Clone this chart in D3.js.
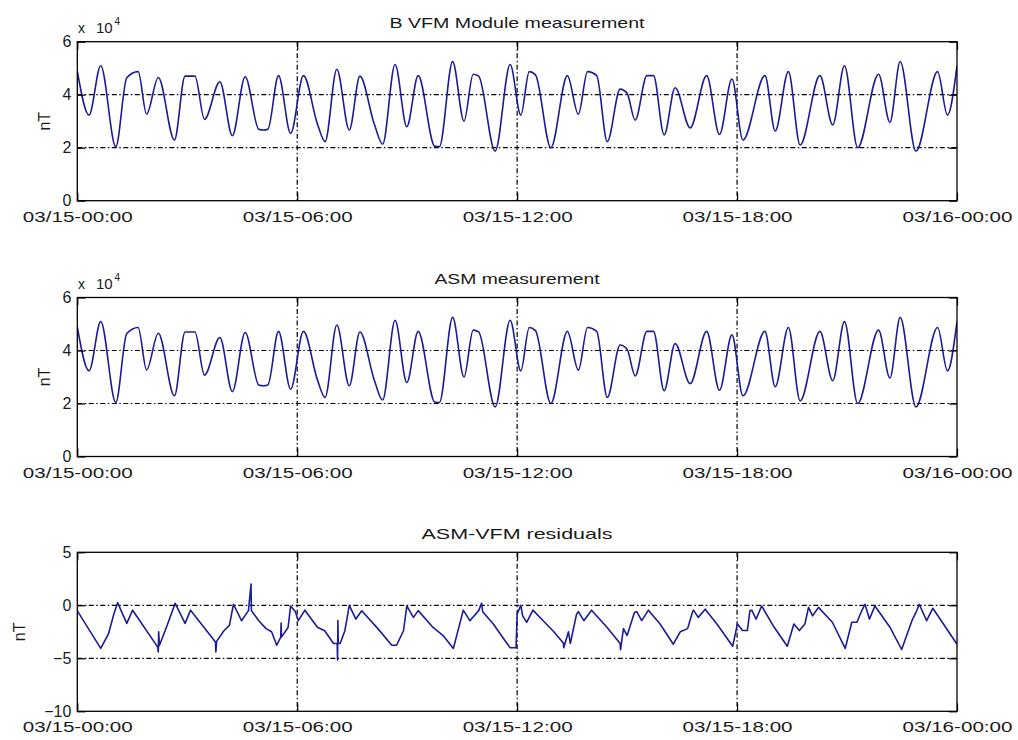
<!DOCTYPE html>
<html><head><meta charset="utf-8">
<script src="https://cdn.jsdelivr.net/npm/d3@7/dist/d3.min.js"></script>
<style>
body{margin:0;background:#fff}
text{font-family:"Liberation Sans",Arial,Helvetica,sans-serif;fill:#1a1a1a}
</style>
</head><body>
<svg id="chart" width="1018" height="740"></svg>
<script>
// ---- data ----
const timeTicks = [0, 6, 12, 18, 24]; // hours since 03/15 00:00
const timeTickLabels = ["03/15-00:00", "03/15-06:00", "03/15-12:00", "03/15-18:00", "03/16-00:00"];
const titles = ["B VFM Module measurement", "ASM measurement", "ASM-VFM residuals"];

const fieldTicks = [0, 2, 4, 6];            // x 10^4 nT
const residualTicks = [-10, -5, 0, 5];      // nT

const vfmHours = [0.00,0.32,0.64,1.05,1.35,1.66,1.89,2.21,2.65,2.94,3.21,3.47,3.89,4.23,4.58,4.95,5.08,5.20,5.49,5.82,
  6.17,6.55,6.76,7.08,7.42,7.71,8.10,8.33,8.67,8.99,9.30,9.75,9.88,10.24,10.55,10.80,10.95,11.40,11.81,
  12.10,12.33,12.50,12.92,13.37,13.67,13.92,14.17,14.46,14.81,15.00,15.22,15.54,15.72,16.01,16.31,16.72,17.17,17.52,17.86,
  18.16,18.76,19.04,19.40,19.72,20.26,20.61,20.93,21.29,21.86,22.17,22.45,22.88,23.47,23.74,24.00];
const vfmValues = [4.89,3.23,5.09,2.04,4.64,4.87,3.27,4.65,2.29,4.70,4.70,3.07,4.49,2.45,4.68,2.70,2.67,2.70,4.72,2.54,
  4.72,2.90,2.23,4.96,2.67,4.70,2.90,2.13,5.14,2.79,4.72,2.06,2.04,5.25,3.00,4.77,4.70,1.87,5.14,
  3.23,4.87,4.75,2.00,4.72,3.26,4.87,4.72,2.23,4.21,4.05,3.04,4.72,4.72,2.48,4.26,2.75,4.72,2.50,4.59,
  2.29,4.72,2.63,4.87,2.10,4.72,2.86,5.09,2.00,4.77,2.96,5.25,1.87,4.87,3.23,5.09];

const asmHours = [0.00,0.32,0.64,1.05,1.35,1.66,1.89,2.21,2.65,2.94,3.21,3.47,3.89,4.23,4.58,4.95,5.08,5.20,5.49,5.82,
  6.17,6.55,6.76,7.08,7.42,7.71,8.10,8.33,8.67,8.99,9.30,9.75,9.88,10.24,10.55,10.80,10.95,11.40,11.81,
  12.10,12.33,12.50,12.92,13.37,13.67,13.92,14.17,14.46,14.81,15.00,15.22,15.54,15.72,16.01,16.31,16.72,17.17,17.52,17.86,
  18.16,18.76,19.04,19.40,19.72,20.26,20.61,20.93,21.29,21.86,22.17,22.45,22.88,23.47,23.74,24.00];
const asmValues = [4.89,3.23,5.09,2.04,4.64,4.87,3.27,4.65,2.29,4.70,4.70,3.07,4.49,2.45,4.68,2.70,2.67,2.70,4.72,2.54,
  4.72,2.90,2.23,4.96,2.67,4.70,2.90,2.13,5.14,2.79,4.72,2.06,2.04,5.25,3.00,4.77,4.70,1.87,5.14,
  3.23,4.87,4.75,2.00,4.72,3.26,4.87,4.72,2.23,4.21,4.05,3.04,4.72,4.72,2.48,4.26,2.75,4.72,2.50,4.59,
  2.29,4.72,2.63,4.87,2.10,4.72,2.86,5.09,2.00,4.77,2.96,5.25,1.87,4.87,3.23,5.09];

const residualHours = [0.00,0.64,0.85,1.00,1.10,1.35,1.51,2.19,2.21,2.22,2.24,2.45,2.67,2.94,3.09,3.77,3.78,3.80,4.00,4.15,4.26,4.48,4.67,4.74,4.75,4.95,5.15,5.30,5.44,5.55,5.56,5.57,5.75,5.82,5.95,
  6.03,6.21,6.55,6.75,6.99,7.09,7.10,7.11,7.12,7.17,7.30,7.42,7.60,7.76,8.20,8.58,8.71,8.90,8.99,9.17,9.30,9.70,9.98,10.26,10.40,10.53,10.71,10.95,11.03,11.06,11.35,11.66,11.81,11.97,
  12.00,12.10,12.15,12.26,12.43,12.75,13.00,13.26,13.27,13.40,13.45,13.62,13.67,13.82,14.03,14.45,14.81,14.82,14.90,15.00,15.20,15.26,15.40,15.58,15.90,16.26,16.45,16.65,16.78,16.81,16.94,17.13,17.45,17.88,
  18.01,18.15,18.28,18.35,18.40,18.52,18.67,18.98,19.37,19.55,19.70,19.85,19.95,20.06,20.22,20.60,20.95,21.13,21.27,21.40,21.49,21.61,21.76,22.17,22.49,22.77,22.90,22.97,23.17,23.34,23.63,24.00];
const residualValues = [-0.52,-4.07,-2.70,-0.80,0.25,-1.70,-0.46,-3.92,-4.40,-2.50,-3.80,-1.90,0.19,-1.70,-0.46,-3.46,-4.40,-3.40,-2.40,-1.90,0.10,-1.45,-0.50,2.00,-0.50,-1.45,-2.20,-2.50,-3.77,-3.00,-1.67,-3.00,-2.10,-0.06,-0.60,
  -1.45,-0.46,-2.07,-2.40,-3.60,-3.60,-5.15,-1.45,-3.60,-3.60,-2.40,0.00,-1.30,-0.52,-2.20,-3.77,-3.77,-2.40,-0.06,-1.14,-0.50,-2.07,-2.85,-4.07,-2.20,-0.46,-1.45,-0.50,0.20,-0.60,-1.76,-3.30,-4.00,-4.00,
  -0.83,0.00,-1.00,-1.60,-0.46,-1.60,-2.50,-3.55,-4.00,-2.50,-3.60,-0.85,-0.60,-1.45,-0.46,-2.07,-3.60,-4.20,-2.20,-2.85,-0.68,-0.60,-1.45,-0.46,-1.76,-3.67,-2.50,-2.20,-0.68,-0.46,-1.14,-0.37,-1.76,-3.86,
  -1.76,-2.38,-2.38,-0.52,-0.46,-1.30,-0.06,-1.90,-3.86,-1.76,-2.38,-1.76,-0.20,-1.00,-0.20,-1.60,-4.07,-1.60,-1.60,-0.52,0.10,-1.30,-0.06,-2.07,-4.17,-1.45,-0.52,0.10,-1.45,-0.28,-1.76,-3.67];

// ---- layout ----
const svg = d3.select("#chart");
const left = 77.3, right = 957, plotH = 159;
const panels = [
  {title: titles[0], hours: vfmHours, values: vfmValues, domain: [0, 6], ticks: fieldTicks, grid: [2, 4], top: 41.7, exp: true, nTx: 50, curve: d3.curveMonotoneX, tw: 255},
  {title: titles[1], hours: asmHours, values: asmValues, domain: [0, 6], ticks: fieldTicks, grid: [2, 4], top: 297.5, exp: true, nTx: 50, curve: d3.curveMonotoneX, tw: 165},
  {title: titles[2], hours: residualHours, values: residualValues, domain: [-10, 5], ticks: residualTicks, grid: [-5, 0], top: 552.3, exp: false, nTx: 25, curve: d3.curveLinear, tw: 191}
];

const x = d3.scaleLinear().domain([0, 24]).range([left, right]);
const dash = "5,2.5,1.5,2.5";
const font = "'Liberation Sans',Arial,sans-serif";

panels.forEach((p, i) => {
  const bottom = p.top + plotH;
  const y = d3.scaleLinear().domain(p.domain).range([bottom, p.top]);
  const g = svg.append("g");

  // grid lines
  timeTicks.slice(1, -1).forEach(t => {
    g.append("line").attr("x1", x(t)).attr("x2", x(t)).attr("y1", p.top).attr("y2", bottom)
      .attr("stroke", "#000").attr("stroke-width", 1.2).attr("stroke-dasharray", dash);
  });
  p.grid.forEach(v => {
    g.append("line").attr("x1", left).attr("x2", right).attr("y1", y(v)).attr("y2", y(v))
      .attr("stroke", "#000").attr("stroke-width", 1.2).attr("stroke-dasharray", dash);
  });

  // data line
  const clipId = "clip" + i;
  svg.append("clipPath").attr("id", clipId).append("rect")
    .attr("x", left).attr("y", p.top).attr("width", right - left).attr("height", plotH);
  const pts = p.hours.map((h, k) => [h, p.values[k]]);
  g.append("path").datum(pts)
    .attr("clip-path", `url(#${clipId})`)
    .attr("fill", "none").attr("stroke", "#1c1c96").attr("stroke-width", 1.6).attr("stroke-linejoin", "round")
    .attr("d", d3.line().x(d => x(d[0])).y(d => y(d[1])).curve(p.curve));

  // axes
  const xAxis = d3.axisBottom(x).tickValues(timeTicks)
    .tickFormat((d, k) => timeTickLabels[k]).tickSizeInner(-8).tickSizeOuter(0).tickPadding(10);
  const xa = g.append("g").attr("transform", `translate(0,${bottom})`).call(xAxis);
  xa.selectAll("text").attr("font-size", 15.5).attr("textLength", 110).attr("lengthAdjust", "spacingAndGlyphs")
    .style("font-family", font).attr("fill", "#1a1a1a");
  const xTop = d3.axisTop(x).tickValues(timeTicks).tickFormat("").tickSizeInner(-8).tickSizeOuter(0);
  g.append("g").attr("transform", `translate(0,${p.top})`).call(xTop);

  const yAxis = d3.axisLeft(y).tickValues(p.ticks).tickFormat(d3.format("d"))
    .tickSizeInner(-8).tickSizeOuter(0).tickPadding(6);
  const ya = g.append("g").attr("transform", `translate(${left},0)`).call(yAxis);
  ya.selectAll("text").attr("font-size", 16).style("font-family", font).attr("fill", "#1a1a1a");
  const yRight = d3.axisRight(y).tickValues(p.ticks).tickFormat("").tickSizeInner(-8).tickSizeOuter(0);
  g.append("g").attr("transform", `translate(${right},0)`).call(yRight);

  svg.selectAll(".domain").attr("stroke", "none");
  g.selectAll(".tick line").attr("stroke", "#000").attr("stroke-width", 1.2);

  // box
  g.append("rect").attr("x", left).attr("y", p.top).attr("width", right - left).attr("height", plotH)
    .attr("fill", "none").attr("stroke", "#000").attr("stroke-width", 1.3);

  // title
  g.append("text").attr("x", 517).attr("y", p.top - 13.5).attr("text-anchor", "middle")
    .attr("font-size", 14.5).attr("textLength", p.tw).attr("lengthAdjust", "spacingAndGlyphs").text(p.title);

  // y label
  g.append("text").attr("transform", `translate(${p.nTx},${p.top + plotH / 2}) rotate(-90)`)
    .attr("text-anchor", "middle").attr("font-size", 16).text("nT");

  // exponent
  if (p.exp) {
    g.append("text").attr("x", 78).attr("y", p.top - 9).attr("font-size", 14).text("x");
    g.append("text").attr("x", 96).attr("y", p.top - 9).attr("font-size", 15).text("10");
    g.append("text").attr("x", 114.5).attr("y", p.top - 17).attr("font-size", 10).text("4");
  }
});
</script>
</body></html>
